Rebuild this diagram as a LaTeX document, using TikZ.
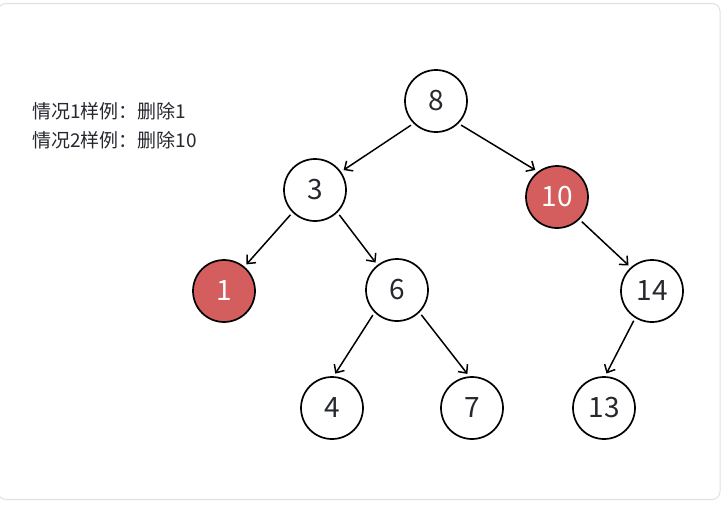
\documentclass[tikz,border=0pt]{standalone}
\usepackage{fontspec}
\setmainfont{Noto Sans CJK SC}
\usetikzlibrary{arrows.meta}
\definecolor{nodered}{RGB}{212,94,94}
\definecolor{txt}{RGB}{38,40,46}
\definecolor{frame}{RGB}{224,224,224}
\tikzset{
  tn/.style={circle, draw=black, line width=1.7pt, minimum size=62pt, inner sep=0pt, fill=white, text=txt, font=\fontsize{28}{30}\selectfont},
  rn/.style={tn, fill=nodered, text=white},
  edge/.style={line width=1.5pt, -{Straight Barb[length=6.5pt,width=12pt,line width=1.5pt]}, shorten >=3pt, shorten <=3pt},
  lbl/.style={anchor=west, inner sep=0pt, text=txt, font=\fontsize{19}{22}\selectfont}
}
\begin{document}
\begin{tikzpicture}[x=1pt,y=-1pt]
\useasboundingbox (0,0) rectangle (722,504);
\draw[frame, line width=1pt, rounded corners=8pt] (-2,3.5) rectangle (720,499.5);
\node[lbl] (l1) at (32,111) {情况1样例：删除1};
\node[lbl] (l2) at (32,140) {情况2样例：删除10};
\node[tn] (n8) at (436,101) {8};
\node[tn] (n3) at (315,190) {3};
\node[rn] (n10) at (557,197) {10};
\node[rn] (n1) at (224,291) {1};
\node[tn] (n6) at (397,290) {6};
\node[tn] (n14) at (652,291) {14};
\node[tn] (n4) at (332,408) {4};
\node[tn] (n7) at (472,408) {7};
\node[tn] (n13) at (604,408) {13};
\draw[edge] (n8.-135) -- (n3.35);
\draw[edge] (n8.-45) -- (n10.127);
\draw[edge] (n3.-135) -- (n1.50);
\draw[edge] (n3.-45) -- (n6.128);
\draw[edge] (n10.-45) -- (n14.132);
\draw[edge] (n6.-135) -- (n4.87);
\draw[edge] (n6.-45) -- (n7.95);
\draw[edge] (n14.-122) -- (n13.88);
\end{tikzpicture}
\end{document}
